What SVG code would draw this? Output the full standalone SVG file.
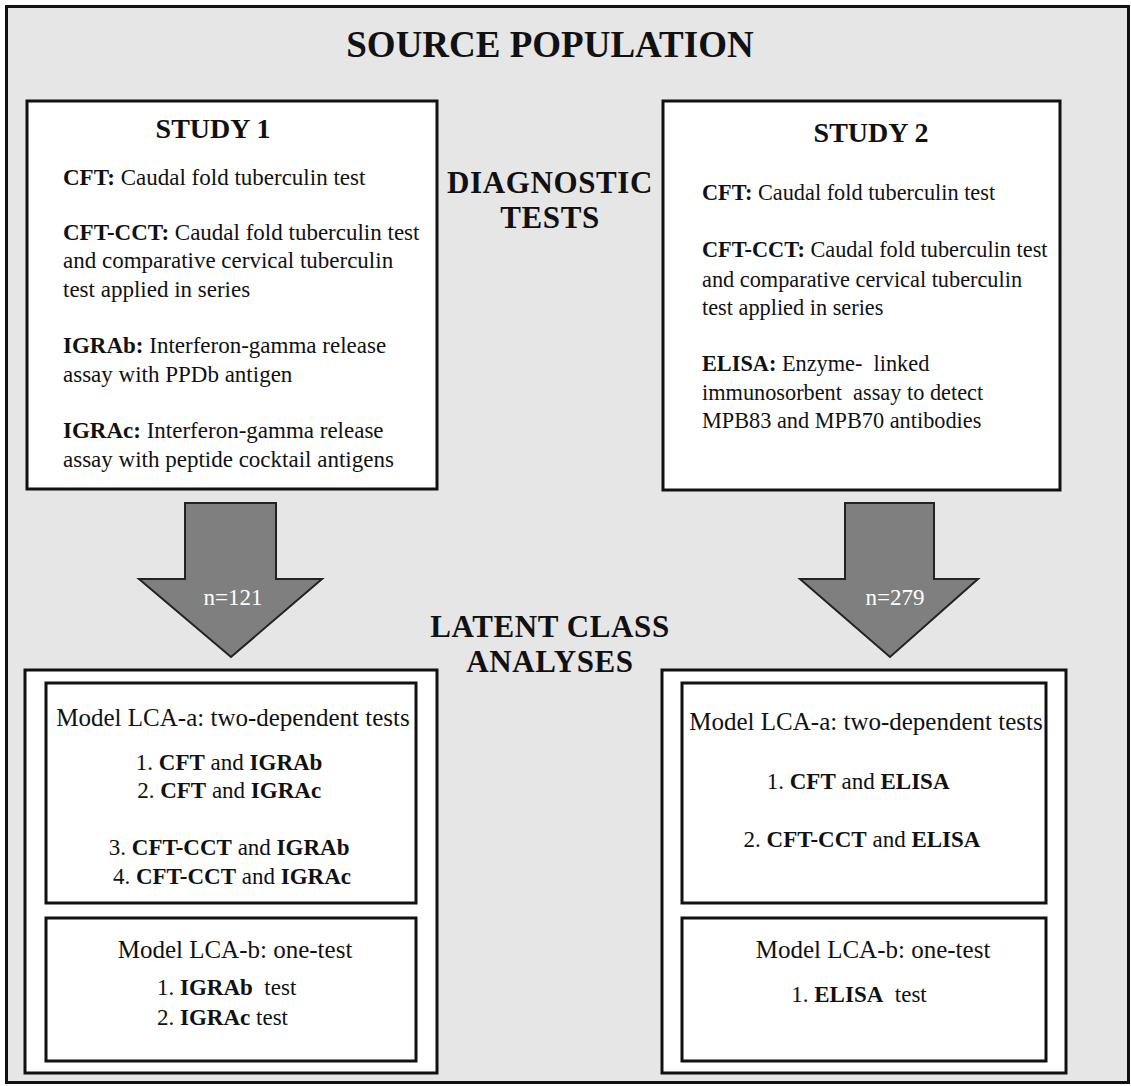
<svg xmlns="http://www.w3.org/2000/svg" width="1131" height="1086" viewBox="0 0 1131 1086">
  <style>
    text { font-family: "Liberation Serif", "Times New Roman", serif; fill: #111; }
    .title { font-size: 37px; font-weight: bold; }
    .head { font-size: 28px; font-weight: bold; }
    .side { font-size: 31px; font-weight: bold; letter-spacing: 0.6px; }
    .body { font-size: 23px; }
    .body2 { font-size: 22.3px; }
    .model { font-size: 25px; }
    .n { font-size: 23px; fill: #fff; }
    .b { font-weight: bold; }
    .box { fill: #fff; stroke: #111; stroke-width: 3; }
    .frame { fill: #e7e6e7; stroke: #111; stroke-width: 3; }
    .arrow { fill: #7f7f7f; stroke: #222; stroke-width: 2; }
  </style>

  <!-- background frame -->
  <rect class="frame" x="6.5" y="6.5" width="1122" height="1076"/>
  <text class="title" x="550" y="57" text-anchor="middle">SOURCE POPULATION</text>

  <!-- middle labels -->
  <text class="side" x="550" y="193" text-anchor="middle">DIAGNOSTIC</text>
  <text class="side" x="550" y="228" text-anchor="middle">TESTS</text>
  <text class="side" x="550" y="637" text-anchor="middle">LATENT CLASS</text>
  <text class="side" x="550" y="672" text-anchor="middle">ANALYSES</text>

  <!-- Study 1 -->
  <g id="study1">
    <rect class="box" x="27" y="101" width="410" height="388"/>
    <text class="head" x="213" y="138" text-anchor="middle">STUDY 1</text>
    <text class="body" x="63">
      <tspan y="185"><tspan class="b">CFT:</tspan> Caudal fold tuberculin test</tspan>
      <tspan x="63" y="240"><tspan class="b">CFT-CCT:</tspan> Caudal fold tuberculin test</tspan>
      <tspan x="63" y="268">and comparative cervical tuberculin</tspan>
      <tspan x="63" y="297">test applied in series</tspan>
      <tspan x="63" y="353"><tspan class="b">IGRAb:</tspan> Interferon-gamma  release</tspan>
      <tspan x="63" y="382">assay with PPDb antigen</tspan>
      <tspan x="63" y="438"><tspan class="b">IGRAc:</tspan> Interferon-gamma  release</tspan>
      <tspan x="63" y="467">assay with peptide cocktail antigens</tspan>
    </text>
  </g>

  <!-- Study 2 -->
  <g id="study2">
    <rect class="box" x="663" y="101" width="397" height="389"/>
    <text class="head" x="871" y="142" text-anchor="middle">STUDY 2</text>
    <text class="body2" x="702">
      <tspan y="200"><tspan class="b">CFT:</tspan> Caudal fold tuberculin test</tspan>
      <tspan x="702" y="257"><tspan class="b">CFT-CCT:</tspan> Caudal fold tuberculin test</tspan>
      <tspan x="702" y="287">and comparative cervical tuberculin</tspan>
      <tspan x="702" y="315">test applied in series</tspan>
      <tspan x="702" y="371"><tspan class="b">ELISA:</tspan> Enzyme-&#160; linked</tspan>
      <tspan x="702" y="400">immunosorbent&#160; assay to detect</tspan>
      <tspan x="702" y="428">MPB83 and MPB70 antibodies</tspan>
    </text>
  </g>

  <!-- block arrows -->
  <g id="connectors">
    <g id="arrow1">
      <path class="arrow" d="M185 503 H276 V579 H322 L231 657 L139 579 H185 Z"/>
      <text class="n" x="233" y="605" text-anchor="middle">n=121</text>
    </g>
    <g id="arrow2">
      <path class="arrow" d="M845 503 H934 V579 H978 L890 657 L800 579 H845 Z"/>
      <text class="n" x="895" y="605" text-anchor="middle">n=279</text>
    </g>
  </g>

  <!-- LCA, study 1 -->
  <g id="lca1">
    <rect class="box" x="25" y="670" width="412" height="403"/>
    <g id="lca1-a">
      <rect class="box" x="46" y="683" width="370" height="220"/>
      <text class="model" x="233" y="726" text-anchor="middle">Model LCA-a: two-dependent tests</text>
      <text class="body" text-anchor="middle">
        <tspan x="232" y="770">1. <tspan class="b">CFT</tspan> and <tspan class="b">IGRAb</tspan></tspan>
        <tspan x="232" y="798">2. <tspan class="b">CFT</tspan> and <tspan class="b">IGRAc</tspan></tspan>
        <tspan x="232" y="855">3. <tspan class="b">CFT-CCT</tspan> and <tspan class="b">IGRAb</tspan></tspan>
        <tspan x="232" y="884">4. <tspan class="b">CFT-CCT</tspan> and <tspan class="b">IGRAc</tspan></tspan>
      </text>
    </g>
    <g id="lca1-b">
      <rect class="box" x="46" y="918" width="370" height="143"/>
      <text class="model" x="235" y="958" text-anchor="middle">Model LCA-b: one-test</text>
      <text class="body">
        <tspan x="157" y="995">1. <tspan class="b">IGRAb</tspan>&#160; test</tspan>
        <tspan x="157" y="1025">2. <tspan class="b">IGRAc</tspan> test</tspan>
      </text>
    </g>
  </g>

  <!-- LCA, study 2 -->
  <g id="lca2">
    <rect class="box" x="662" y="670" width="404" height="403"/>
    <g id="lca2-a">
      <rect class="box" x="682" y="683" width="364" height="220"/>
      <text class="model" x="866" y="730" text-anchor="middle">Model LCA-a: two-dependent tests</text>
      <text class="body" text-anchor="middle">
        <tspan x="861" y="789">1. <tspan class="b">CFT</tspan> and <tspan class="b">ELISA</tspan></tspan>
        <tspan x="862" y="847">2. <tspan class="b">CFT-CCT</tspan> and <tspan class="b">ELISA</tspan></tspan>
      </text>
    </g>
    <g id="lca2-b">
      <rect class="box" x="682" y="918" width="364" height="143"/>
      <text class="model" x="873" y="958" text-anchor="middle">Model LCA-b: one-test</text>
      <text class="body" x="859" y="1002" text-anchor="middle">1. <tspan class="b">ELISA</tspan>&#160; test</text>
    </g>
  </g>
</svg>
